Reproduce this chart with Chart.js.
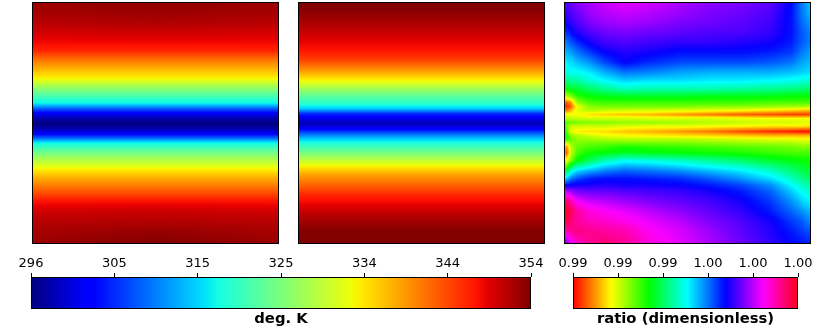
<!DOCTYPE html>
<html><head><meta charset="utf-8">
<script src="https://cdn.jsdelivr.net/npm/chart.js@4"></script>
<style>html,body{margin:0;padding:0;background:#fff;overflow:hidden}canvas{position:absolute;left:0;top:0}</style>
</head><body>
<canvas id="p1" width="831" height="328"></canvas>
<canvas id="p2" width="831" height="328"></canvas>
<canvas id="p3" width="831" height="328"></canvas>
<canvas id="c1" width="831" height="328"></canvas>
<canvas id="c2" width="831" height="328"></canvas>
<script>
// Temperature panels (deg. K) by latitude
const tempLats = [90,84,76.6,69.1,59.4,54.1,46.7,39.2,33.2,28,24.3,19,14.6,10.8,7.1,3.4,-0.4,-4.1,-7.9,-11.6,-14.6,-19,-24.3,-29.5,-34,-39.2,-46.7,-54.1,-57.9,-65.3,-72.8,-80.2,-90];
const tempLons = [0,180,360];
const tempAMid = [353.1,352.8,352,350.5,348.2,346.8,341.5,337.2,333.7,328.5,325,320.4,316.9,308.8,302.4,298.3,296,298.3,302.4,309.9,316.9,321.5,326.2,330.2,333.7,337.2,341.2,345.3,347.6,350.2,351.4,352.8,354];
const tempARim = [352.6,352.3,351.4,350.2,348.2,346.8,341.5,337.2,333.7,328.5,325,320.4,316.9,308.8,302.4,298.3,296,298.3,302.4,309.9,316.9,321.5,326.2,330.2,333.7,337.2,341.2,345.3,347.6,349.9,351.1,352,352.6];
const tempB = [354,353.7,352.3,350.8,348.5,347.6,344.7,339.5,334.9,330.2,326.5,322.1,319.2,315.1,305.9,301.2,298.9,302.4,308.8,314.6,318,321.8,326.5,331.4,335.4,339.2,343,346.8,347.9,350.2,352.3,353.7,354];
// Ratio panel: values are 0.99 + r * 1e-4
const ratioLons = [0,4,10,19,37,59,88,125,169,213,257,301,331,346,360];
const ratioLats = [90,82.5,75,67.6,60,52.7,45.2,37.7,31.7,25.8,19.8,15.3,12.3,9.3,6.3,3.4,0.4,-2.6,-6.3,-9.3,-12.3,-17.6,-22,-28,-35.5,-41.5,-46,-50.4,-58,-65.4,-72.8,-80.3,-90];
const ratioRows = [
[72,73,75,77,79,81,83,82,79,77,76,74,68,60,54],
[71,72,73,75,78,80,81,80,78,76,75,73,67,60,55],
[68,69,71,73,76,78,79,78,76,75,74,72,67,61,57],
[64,65,67,70,73,75,76,75,74,73,73,71,67,62,59],
[59,60,62,65,69,72,73,72,71,71,70,69,66,62,59],
[55,56,57,60,64,68,70,69,67,67,67,66,64,60,57],
[51,52,53,55,58,63,68,65,63,63,63,62,60,57,55],
[49,49,50,50,52,56,60,59,57,56,56,56,55,54,53],
[42,43,44,45,48,51,54,53,53,52,52,51,50,49,48],
[34,35,37,38,41,44,47,46,46,46,45,44,43,42,41],
[24,22,25,31,34,35,36,36,36,35,35,35,34,34,34],
[8,6,10,24,29,30,30,30,30,30,30,29,29,29,29],
[4,3,6,18,25,26,26,26,26,25,25,24,23,23,22],
[10,8,12,19,22,21,20,20,19,18,17,15,14,13,12],
[18,18,18,17,15,14,13,12,10,8,6,5,4,4,4],
[24,22,21,21,20,20,20,19,19,19,18,17,17,17,17],
[30,28,27,26,25,25,24,24,23,22,21,20,20,19,19],
[35,26,20,20,20,20,19,18,18,17,16,15,15,15,14],
[38,28,18,16,15,15,13,12,10,8,5,3,2,1,1],
[42,32,24,22,20,18,17,16,15,14,13,12,12,12,12],
[36,30,27,24,24,23,22,22,22,21,20,19,19,18,18],
[14,10,22,27,29,30,32,31,30,29,28,27,26,25,25],
[8,6,20,29,33,34,36,35,34,33,32,30,29,29,29],
[22,18,26,34,40,46,50,49,47,44,41,37,35,34,33],
[33,38,48,53,56,59,61,60,58,55,52,47,42,39,37],
[52,55,60,63,66,67,67,66,65,62,58,53,47,43,40],
[65,67,68,69,69,70,69,69,68,66,63,58,51,47,44],
[80,79,77,75,74,74,73,72,71,69,66,61,54,50,47],
[96,94,90,84,81,80,78,76,74,72,69,64,58,54,51],
[100,99,96,91,87,85,83,80,77,74,71,66,61,58,55],
[98,97,94,91,89,88,86,83,80,76,73,69,64,62,58],
[88,90,92,93,92,91,90,85,82,78,74,70,66,64,62],
[72,76,82,88,92,94,92,87,83,79,75,71,68,67,66]
];
// Colour bars
const tempRange = [296,354];
const tempTickValues = [296,305.67,315.33,325,334.67,344.33,354];
const tempTickLabels = ['296','305','315','325','334','344','354'];
const ratioRange = [0.99,1.0];
const ratioTickValues = [0.99,0.992,0.994,0.996,0.998,1.0];
const ratioTickLabels = ['0.99','0.99','0.99','1.00','1.00','1.00'];

const FONT = "'DejaVu Sans'";
const jetStops = {
 r:[[0,0],[.35,0],[.66,1],[.89,1],[1,.5]],
 g:[[0,0],[.125,0],[.375,1],[.64,1],[.91,0],[1,0]],
 b:[[0,.5],[.11,1],[.34,1],[.65,0],[1,0]]};
const hsvStops = {
 r:[[0,1],[.15873,1],[.174603,.96875],[.333333,.03125],[.349206,0],[.666667,0],[.68254,.03125],[.84127,.96875],[.857143,1],[1,1]],
 g:[[0,0],[.15873,.9375],[.174603,1],[.507937,1],[.666667,.0625],[.68254,0],[1,0]],
 b:[[0,0],[.333333,0],[.349206,.0625],[.507937,1],[.84127,1],[.857143,.9375],[1,.09375]]};
function seg(st,t){for(let i=1;i<st.length;i++){if(t<=st[i][0]){const a=st[i-1],b=st[i];return a[1]+(b[1]-a[1])*(t-a[0])/(b[0]-a[0]);}}return st[st.length-1][1];}
function cmap(st,t){t=Math.max(0,Math.min(1,t));return [seg(st.r,t)*255,seg(st.g,t)*255,seg(st.b,t)*255];}

// Scatter controller whose points (placed by the chart's scales) are painted as a smooth field
class FieldController extends Chart.ScatterController {
  draw(){
    const chart=this.chart, ds=this.getDataset(), pts=this.getMeta().data, a=chart.chartArea;
    const nc=ds.nCols, nr=pts.length/nc, vals=ds.data.map(d=>d.v);
    const xs=[];for(let c=0;c<nc;c++)xs.push(pts[c].x);
    const ys=[];for(let r=0;r<nr;r++)ys.push(pts[r*nc].y);
    const L=Math.round(a.left),T=Math.round(a.top),W=Math.round(a.right)-L,H=Math.round(a.bottom)-T;
    const off=document.createElement('canvas');off.width=W;off.height=H;
    const o=off.getContext('2d'),img=o.createImageData(W,H);
    const locate=(arr,p)=>{let i=0;while(i<arr.length-2&&p>arr[i+1])i++;return [i,Math.max(0,Math.min(1,(p-arr[i])/(arr[i+1]-arr[i])))];};
    for(let j=0;j<H;j++){const [r,fy]=locate(ys,T+j+.5);
      for(let i=0;i<W;i++){const [c,fx]=locate(xs,L+i+.5);
        const k=r*nc+c;
        const v=(vals[k]*(1-fx)+vals[k+1]*fx)*(1-fy)+(vals[k+nc]*(1-fx)+vals[k+nc+1]*fx)*fy;
        const rgb=cmap(ds.stops,(v-ds.vmin)/(ds.vmax-ds.vmin));
        const q=(j*W+i)*4;img.data[q]=rgb[0];img.data[q+1]=rgb[1];img.data[q+2]=rgb[2];img.data[q+3]=255;}}
    o.putImageData(img,0,0);
    chart.ctx.drawImage(off,L,T);
  }
}
FieldController.id='field';
FieldController.defaults=Chart.ScatterController.defaults;
Chart.register(FieldController);

const frame={id:'frame',afterDatasetsDraw(ch){const a=ch.chartArea,c=ch.ctx;c.save();c.strokeStyle='#000';c.lineWidth=1;
  c.strokeRect(Math.round(a.left)+.5,Math.round(a.top)+.5,Math.round(a.right-a.left)-1,Math.round(a.bottom-a.top)-1);c.restore();}};

function fieldPoints(lons,lats,valueAt){const out=[];lats.forEach((la,r)=>lons.forEach((lo,c)=>out.push({x:lo,y:la,v:valueAt(r,c)})));return out;}
function panel(id,box,data,nCols,stops,range){
  new Chart(document.getElementById(id),{type:'field',
    data:{datasets:[{data,nCols,stops,vmin:range[0],vmax:range[1]}]},
    options:{responsive:false,animation:false,devicePixelRatio:1,
      layout:{autoPadding:false,padding:{left:box[0],top:box[1],right:831-box[2],bottom:328-box[3]}},
      plugins:{legend:{display:false},tooltip:{enabled:false},title:{display:false}},
      scales:{x:{type:'linear',min:0,max:360,display:false},y:{type:'linear',min:-90,max:90,display:false}}},
    plugins:[frame]});
}
function colorbar(id,left,right,range,tickValues,tickLabels,title,stops){
  const data=fieldPoints(range,[0,1],(r,c)=>range[c]);
  new Chart(document.getElementById(id),{type:'field',
    data:{datasets:[{data,nCols:2,stops,vmin:range[0],vmax:range[1]}]},
    options:{responsive:false,animation:false,devicePixelRatio:1,
      layout:{autoPadding:false,padding:{left,right:831-right,top:247,bottom:0}},
      plugins:{legend:{display:false},tooltip:{enabled:false},
        title:{display:true,text:title,position:'bottom',color:'#000',padding:{top:1,bottom:0},
               font:{family:FONT,size:14.8,weight:'bold',lineHeight:1.2}}},
      scales:{
        x:{type:'linear',position:'top',min:range[0],max:range[1],
          afterBuildTicks(s){s.ticks=tickValues.map(v=>({value:v}));},
          afterFit(s){s.paddingLeft=0;s.paddingRight=0;s.height=30;},
          grid:{drawOnChartArea:false,drawTicks:true,tickLength:4,color:'#000',tickColor:'#000'},
          border:{display:false},
          ticks:{autoSkip:false,maxRotation:0,minRotation:0,color:'#000',padding:2,
            font:{family:FONT,size:13},
            callback(v,i){return tickLabels[i];}}},
        y:{type:'linear',min:0,max:1,display:false}}},
    plugins:[frame]});
}
const tempAValue=(r,c)=>c===1?tempAMid[r]:tempARim[r];
panel('p1',[32,2,279,244],fieldPoints(tempLons,tempLats,tempAValue),tempLons.length,jetStops,tempRange);
panel('p2',[298,2,545,244],fieldPoints(tempLons,tempLats,(r)=>tempB[r]),tempLons.length,jetStops,tempRange);
panel('p3',[564,2,811,244],fieldPoints(ratioLons,ratioLats,(r,c)=>0.99+ratioRows[r][c]*1e-4),ratioLons.length,hsvStops,ratioRange);
colorbar('c1',31,531,tempRange,tempTickValues,tempTickLabels,'deg. K',jetStops);
colorbar('c2',573,798,ratioRange,ratioTickValues,ratioTickLabels,'ratio (dimensionless)',hsvStops);
</script>
</body></html>
